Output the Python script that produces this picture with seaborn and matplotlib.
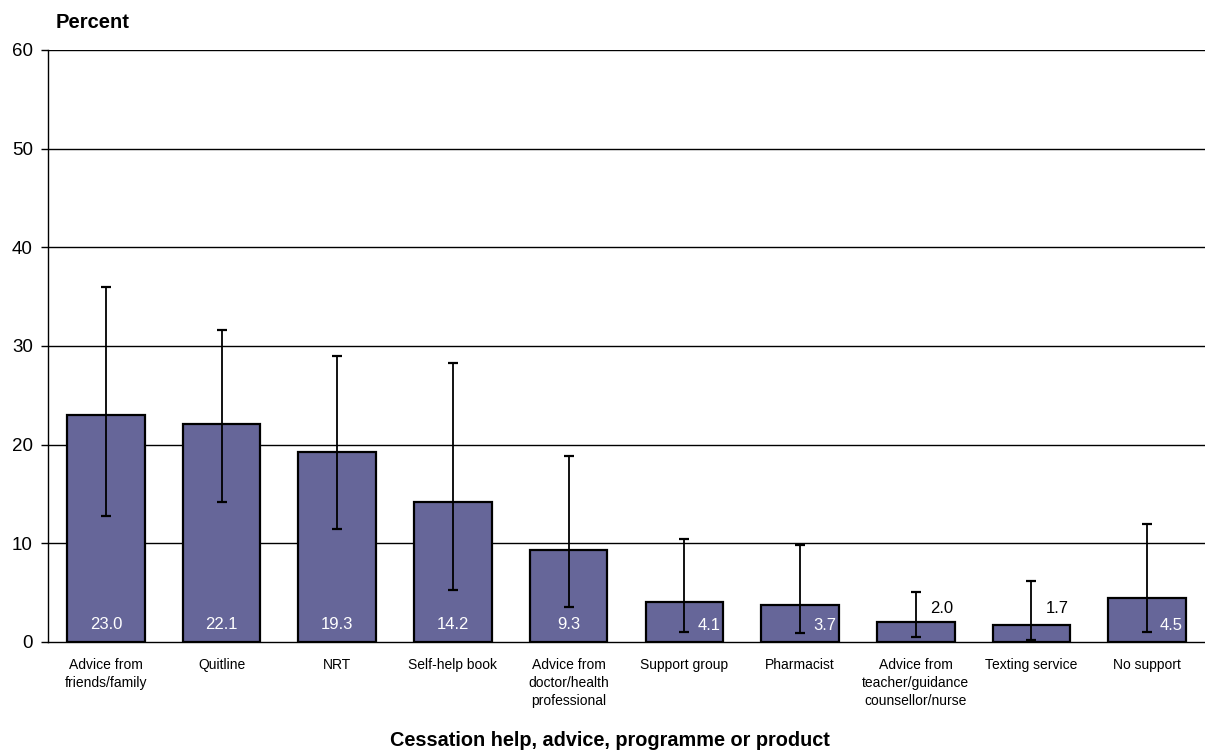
import matplotlib
matplotlib.use("Agg")
import matplotlib.pyplot as plt
import seaborn as sns
import pandas as pd
import numpy as np

categories = [
    "Advice from\nfriends/family",
    "Quitline",
    "NRT",
    "Self-help book",
    "Advice from\ndoctor/health\nprofessional",
    "Support group",
    "Pharmacist",
    "Advice from\nteacher/guidance\ncounsellor/nurse",
    "Texting service",
    "No support",
]
values = [23.0, 22.1, 19.3, 14.2, 9.3, 4.1, 3.7, 2.0, 1.7, 4.5]
ci_lower = [12.8, 14.2, 11.5, 5.3, 3.5, 1.0, 0.9, 0.5, 0.2, 1.0]
ci_upper = [36.0, 31.6, 29.0, 28.3, 18.9, 10.4, 9.8, 5.1, 6.2, 12.0]
y_ticks = [0, 10, 20, 30, 40, 50, 60]

sns.set_theme(style="white")
plt.rcParams["font.family"] = ["Liberation Sans", "DejaVu Sans"]
plt.rcParams["text.color"] = "black"
plt.rcParams["xtick.color"] = "black"
plt.rcParams["ytick.color"] = "black"

df = pd.DataFrame({"cat": categories, "val": values})

fig = plt.figure(figsize=(12.05, 7.53), dpi=100)
ax = fig.add_axes([48 / 1205, 1 - 642 / 753, 1 - 48 / 1205, (642 - 50) / 753])

ax.set_ylim(0, 60)
ax.set_yticks(y_ticks)
for t in y_ticks[1:]:
    ax.axhline(t, color="black", linewidth=1.0, zorder=0)

sns.barplot(data=df, x="cat", y="val", color="#666699", edgecolor="black",
            linewidth=1.6, width=0.67, saturation=1, ax=ax, zorder=2)

xs = np.arange(len(categories))
vals = np.array(values)
yerr = np.vstack([vals - np.array(ci_lower), np.array(ci_upper) - vals])
ax.errorbar(xs, vals, yerr=yerr, fmt="none", ecolor="black", elinewidth=1.3,
            capsize=3.7, capthick=1.6, zorder=3)

for i, v in enumerate(values):
    txt = f"{v:.1f}"
    if v >= 9:
        ax.text(i, 1.8, txt, color="white", ha="center", va="center", fontsize=12, zorder=4)
    elif v >= 3:
        ax.text(i + 0.21, 1.7, txt, color="white", ha="center", va="center", fontsize=12, zorder=4)
    else:
        ax.text(i + 0.22, 3.4, txt, color="black", ha="center", va="center", fontsize=12, zorder=4)

ax.set_xlim(-0.5, len(categories) - 0.5)
for s in ["top", "right"]:
    ax.spines[s].set_visible(False)
ax.spines["left"].set_color("black")
ax.spines["bottom"].set_color("black")
ax.spines["left"].set_linewidth(1.0)
ax.spines["bottom"].set_linewidth(1.0)

ax.tick_params(axis="y", which="major", left=True, length=5, width=1, color="black",
               labelsize=13.5, pad=6)
ax.tick_params(axis="x", bottom=False, labelsize=10, pad=5.5)
for lbl in ax.get_xticklabels():
    lbl.set_linespacing(1.38)

ax.set_ylabel("")
ax.set_xlabel("")
fig.text(610 / 1205, 1 - 741 / 753, "Cessation help, advice, programme or product",
         fontsize=14.3, fontweight="bold", ha="center", va="center")
fig.text(92.5 / 1205, 1 - 22 / 753, "Percent", fontsize=14.5, fontweight="bold",
         ha="center", va="center")

fig.savefig("out.png", dpi=100)
